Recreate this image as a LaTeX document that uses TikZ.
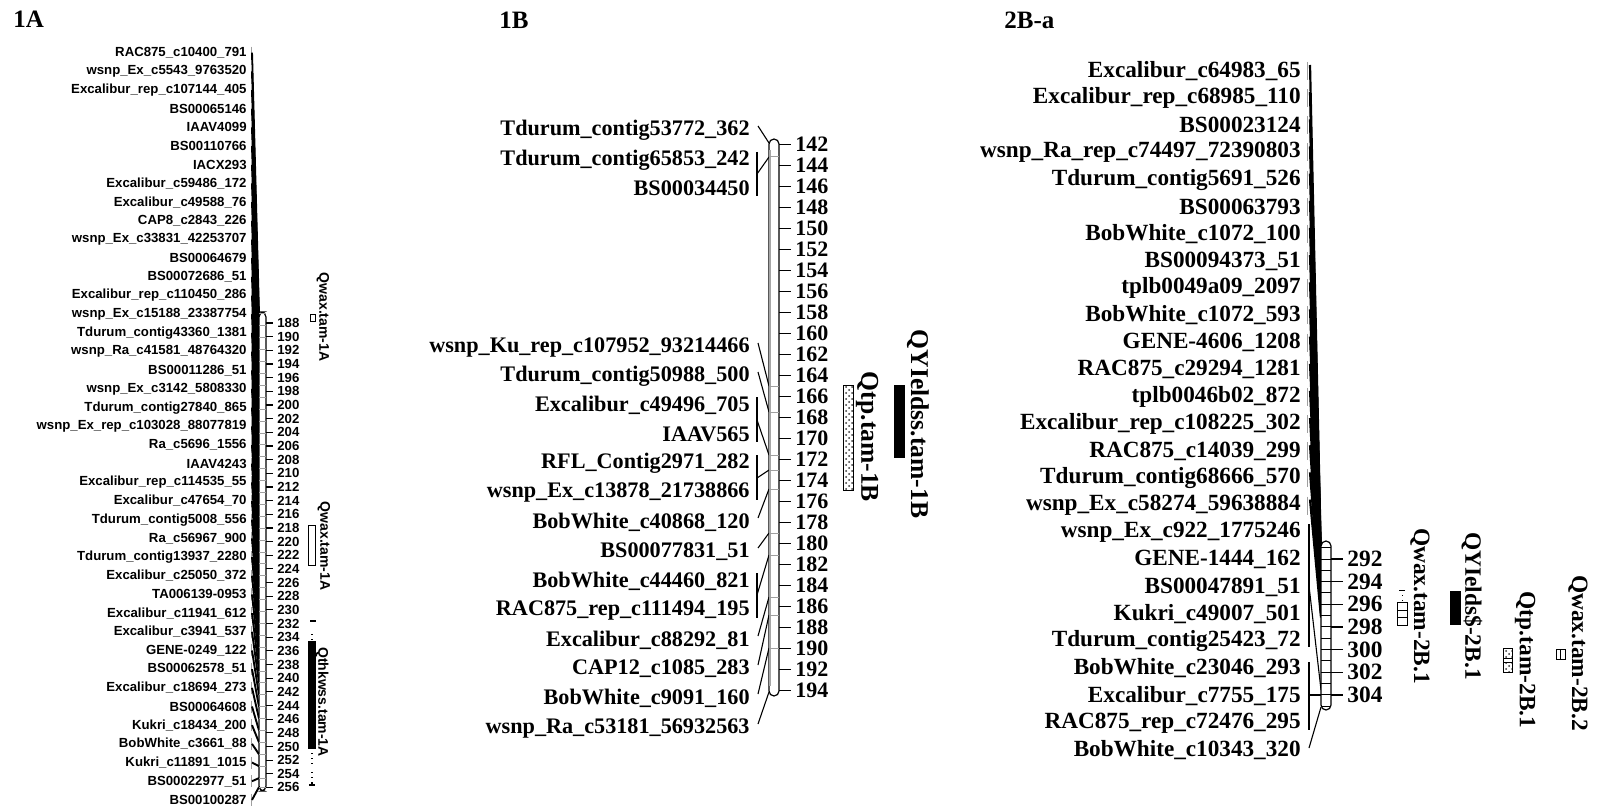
\documentclass[tikz,border=0pt]{standalone}
\usepackage{fontspec}
\setmainfont{Liberation Serif}
\newfontfamily\mapsans{Liberation Sans}
\usetikzlibrary{patterns}
\begin{document}
\begin{tikzpicture}[x=0.5pt,y=-0.5pt,
  lblA/.style={font=\mapsans\bfseries\fontsize{6.6}{7}\selectfont,anchor=east,inner sep=0pt},
  numA/.style={font=\mapsans\bfseries\fontsize{6.6}{7}\selectfont,anchor=west,inner sep=0pt},
  qtlA/.style={font=\mapsans\bfseries\fontsize{7}{8}\selectfont,rotate=-90,inner sep=0pt},
  lblB/.style={font=\bfseries\fontsize{11.1}{12}\selectfont,anchor=east,inner sep=0pt},
  numB/.style={font=\bfseries\fontsize{11}{12}\selectfont,anchor=west,inner sep=0pt},
  qtlB/.style={font=\bfseries\fontsize{12.8}{14}\selectfont,rotate=-90,inner sep=0pt},
  lblC/.style={font=\bfseries\fontsize{11.6}{12}\selectfont,anchor=east,inner sep=0pt},
  numC/.style={font=\bfseries\fontsize{11.7}{12}\selectfont,anchor=west,inner sep=0pt},
  qtlC/.style={font=\bfseries\fontsize{11.7}{13}\selectfont,rotate=-90,inner sep=0pt},
  paneltitle/.style={font=\bfseries\fontsize{12.5}{14}\selectfont,anchor=west,inner sep=0pt},
  conn/.style={line width=0.55pt},
  faint/.style={draw=gray!75,line width=0.5pt},
  chrom/.style={draw,fill=white,line width=0.6pt,rounded corners=2.5pt},
  tickline/.style={line width=0.6pt},
  hatchbar/.style={draw,line width=0.4pt,pattern=crosshatch dots,pattern color=black!80},
]
\path[use as bounding box] (0,0) rectangle (1598,807);

% panel titles
\node[paneltitle] (tA) at (13,19) {1A};
\node[paneltitle] (tB) at (499,20) {1B};
\node[paneltitle] (tC) at (1004,20) {2B-a};

% ================= chromosome 1A =================
\foreach \nm [count=\k from 0] in {
 RAC875\_c10400\_791, wsnp\_Ex\_c5543\_9763520, Excalibur\_rep\_c107144\_405,
 BS00065146, IAAV4099, BS00110766, IACX293, Excalibur\_c59486\_172,
 Excalibur\_c49588\_76, CAP8\_c2843\_226, wsnp\_Ex\_c33831\_42253707,
 BS00064679, BS00072686\_51, Excalibur\_rep\_c110450\_286,
 wsnp\_Ex\_c15188\_23387754, Tdurum\_contig43360\_1381,
 wsnp\_Ra\_c41581\_48764320, BS00011286\_51, wsnp\_Ex\_c3142\_5808330,
 Tdurum\_contig27840\_865, wsnp\_Ex\_rep\_c103028\_88077819, Ra\_c5696\_1556,
 IAAV4243, Excalibur\_rep\_c114535\_55, Excalibur\_c47654\_70,
 Tdurum\_contig5008\_556, Ra\_c56967\_900, Tdurum\_contig13937\_2280,
 Excalibur\_c25050\_372, TA006139-0953, Excalibur\_c11941\_612,
 Excalibur\_c3941\_537, GENE-0249\_122, BS00062578\_51,
 Excalibur\_c18694\_273, BS00064608, Kukri\_c18434\_200,
 BobWhite\_c3661\_88, Kukri\_c11891\_1015, BS00022977\_51, BS00100287}{
  \pgfmathsetmacro\ya{52.7+18.68*\k}
  \pgfmathsetmacro\la{min(314+11.9*\k,787)}
  \node[lblA] (a\k) at (247,\ya) {\nm};
  \coordinate (ma\k) at (259,\la);
  \draw[faint] (251,{\ya-6}) -- (251,{\ya+6});
  \draw[conn,line width=0.95pt] (a\k.east) ++(5,0) -- (ma\k);
}
\draw[chrom] (259,312) rectangle (266,791);
\foreach \k in {0,...,40}{
  \draw[faint] (ma\k) -- ++(7,0);
}
\foreach \c in {188,190,...,256}{
  \pgfmathsetmacro\yt{323+(\c-188)*6.83}
  \draw[tickline] (266,\yt) -- (273,\yt);
  \node[numA] (na\c) at (277,\yt) {\c};
}
% QTL intervals on 1A
\draw[line width=0.5pt] (310,315) rectangle (315,321);
\node[qtlA] (qa1) at (323,317) {Qwax.tam-1A};
\draw[line width=0.5pt,fill=white] (308,525) rectangle (315,565);
\node[qtlA] (qa2) at (324,546) {Qwax.tam-1A};
\draw[line width=0.6pt] (310,621) -- (316,621);
\draw[dotted,line width=0.6pt] (312,634) -- (312,641);
\fill (308,641) rectangle (316,749);
\draw[dotted,line width=0.6pt] (312,753) -- (312,764);
\draw[dotted,line width=0.6pt] (312,772) -- (312,785);
\draw[line width=0.6pt] (309,785) -- (315,785);
\node[qtlA] (qa3) at (322,702) {Qthkwss.tam-1A};

% ================= chromosome 1B =================
\foreach \nm/\yy [count=\k] in {
 Tdurum\_contig53772\_362/130, Tdurum\_contig65853\_242/160, BS00034450/188,
 wsnp\_Ku\_rep\_c107952\_93214466/347, Tdurum\_contig50988\_500/376,
 Excalibur\_c49496\_705/405, IAAV565/434, RFL\_Contig2971\_282/463,
 wsnp\_Ex\_c13878\_21738866/492, BobWhite\_c40868\_120/522, BS00077831\_51/552,
 BobWhite\_c44460\_821/581, RAC875\_rep\_c111494\_195/610,
 Excalibur\_c88292\_81/640, CAP12\_c1085\_283/669, BobWhite\_c9091\_160/698,
 wsnp\_Ra\_c53181\_56932563/728}{
  \node[lblB] (b\k) at (750,\yy) {\nm};
}
% loci on the bar
\foreach \n/\yy in {1/143, 23/157, 4/386, 5/412, 67/455, 89/470, 10/489,
  11/533, 1213/555, 14/597, 15/615, 16/648, 17/692}{
  \coordinate (mb\n) at (769,\yy);
}
% bracket joints for markers sharing a locus
\coordinate (kb23) at (757,174);
\coordinate (kb67) at (757,420);
\coordinate (kb89) at (757,478);
\coordinate (kb1213) at (757,595);
\draw[conn] (757,152) -- (757,196);
\draw[conn] (757,397) -- (757,442);
\draw[conn] (757,455) -- (757,500);
\draw[conn] (757,573) -- (757,618);
\draw[conn] (kb23) -- (mb23);
\draw[conn] (kb67) -- (mb67);
\draw[conn] (kb89) -- (mb89);
\draw[conn] (kb1213) -- (mb1213);
\foreach \n in {1,4,5,10,11,14,15,16,17}{
  \draw[conn] (b\n.east) ++(8,-4) -- (mb\n);
}
\draw[chrom] (769,139) rectangle (779,696);
\draw[draw=gray!70,line width=1pt] (770,150) -- (770,686);
\foreach \n in {23,4,5,67,89,10,11,1213,14,15,16}{
  \draw[faint] (mb\n) -- ++(10,0);
}
\foreach \c in {142,144,...,194}{
  \pgfmathsetmacro\yt{144.3+(\c-142)*10.5}
  \draw[tickline] (779,\yt) -- (791,\yt);
  \node[numB] (nb\c) at (795,\yt) {\c};
}
% QTL intervals on 1B
\draw[hatchbar] (843,385) rectangle (853,490);
\node[qtlB] (qb1) at (867,437) {Qtp.tam-1B};
\fill (894,385) rectangle (905,458);
\node[qtlB] (qb2) at (918,424) {QYIeldss.tam-1B};

% ================= chromosome 2B-a =================
\foreach \nm [count=\k from 0] in {
 Excalibur\_c64983\_65, Excalibur\_rep\_c68985\_110, BS00023124,
 wsnp\_Ra\_rep\_c74497\_72390803, Tdurum\_contig5691\_526, BS00063793,
 BobWhite\_c1072\_100, BS00094373\_51, tplb0049a09\_2097, BobWhite\_c1072\_593,
 GENE-4606\_1208, RAC875\_c29294\_1281, tplb0046b02\_872,
 Excalibur\_rep\_c108225\_302, RAC875\_c14039\_299, Tdurum\_contig68666\_570,
 wsnp\_Ex\_c58274\_59638884, wsnp\_Ex\_c922\_1775246, GENE-1444\_162,
 BS00047891\_51, Kukri\_c49007\_501, Tdurum\_contig25423\_72,
 BobWhite\_c23046\_293, Excalibur\_c7755\_175, RAC875\_rep\_c72476\_295,
 BobWhite\_c10343\_320}{
  \pgfmathsetmacro\yc{71+27.16*\k}
  \node[lblC] (c\k) at (1301,\yc) {\nm};
}
\foreach \k in {0,...,16}{
  \pgfmathsetmacro\lc{560+3.6*\k}
  \coordinate (mc\k) at (1321,\lc);
  \draw[faint] (c\k.east) ++(6,-9) -- ++(0,18);
  \draw[conn,line width=1.1pt] (c\k.east) ++(9,-6) -- (mc\k);
}
\coordinate (mcg1) at (1321,690);
\coordinate (mcg2) at (1321,695);
\coordinate (mc25) at (1321,707);
\coordinate (kcg1) at (1309,586);
\coordinate (kcg2) at (1309,695);
\draw[conn] (1309,524) -- (1309,647);
\draw[conn] (kcg1) -- (mcg1);
\draw[conn] (1309,662) -- (1309,730);
\draw[conn] (kcg2) -- (mcg2);
\draw[conn] (c25.east) ++(8,-2) -- (mc25);
\draw[chrom] (1321,541) rectangle (1331,710);
\foreach \c in {291,...,305}{
  \pgfmathsetmacro\yi{559+(\c-292)*11.33}
  \draw[line width=0.5pt] (1321,\yi) -- (1331,\yi);
}
\foreach \c in {292,294,...,304}{
  \pgfmathsetmacro\yt{559+(\c-292)*11.33}
  \draw[tickline] (1331,\yt) -- (1343,\yt);
  \node[numC] (nc\c) at (1347,\yt) {\c};
}
% QTL intervals on 2B-a
\draw[dotted,line width=0.5pt] (1402,590) -- (1402,602);
\draw[line width=0.5pt] (1399,590) -- (1405,590);
\draw[line width=0.5pt,fill=white] (1397,602) rectangle (1407,625);
\draw[line width=0.5pt] (1397,610) -- (1407,610) (1397,617) -- (1407,617);
\node[qtlC] (qc1) at (1420,606) {Qwax.tam-2B.1};
\fill (1450,591) rectangle (1461,625);
\node[qtlC] (qc2) at (1472,606) {QYIelds\$-2B.1};
\draw[hatchbar] (1503,648) rectangle (1512,672);
\draw[line width=0.5pt,fill=white] (1503,658) rectangle (1512,662);
\node[qtlC] (qc3) at (1525,660) {Qtp.tam-2B.1};
\draw[line width=0.5pt,fill=white] (1556,649) rectangle (1565,659);
\draw[line width=0.5pt] (1560.5,649) -- (1560.5,659);
\node[qtlC] (qc4) at (1578,653) {Qwax.tam-2B.2};
\end{tikzpicture}
\end{document}
